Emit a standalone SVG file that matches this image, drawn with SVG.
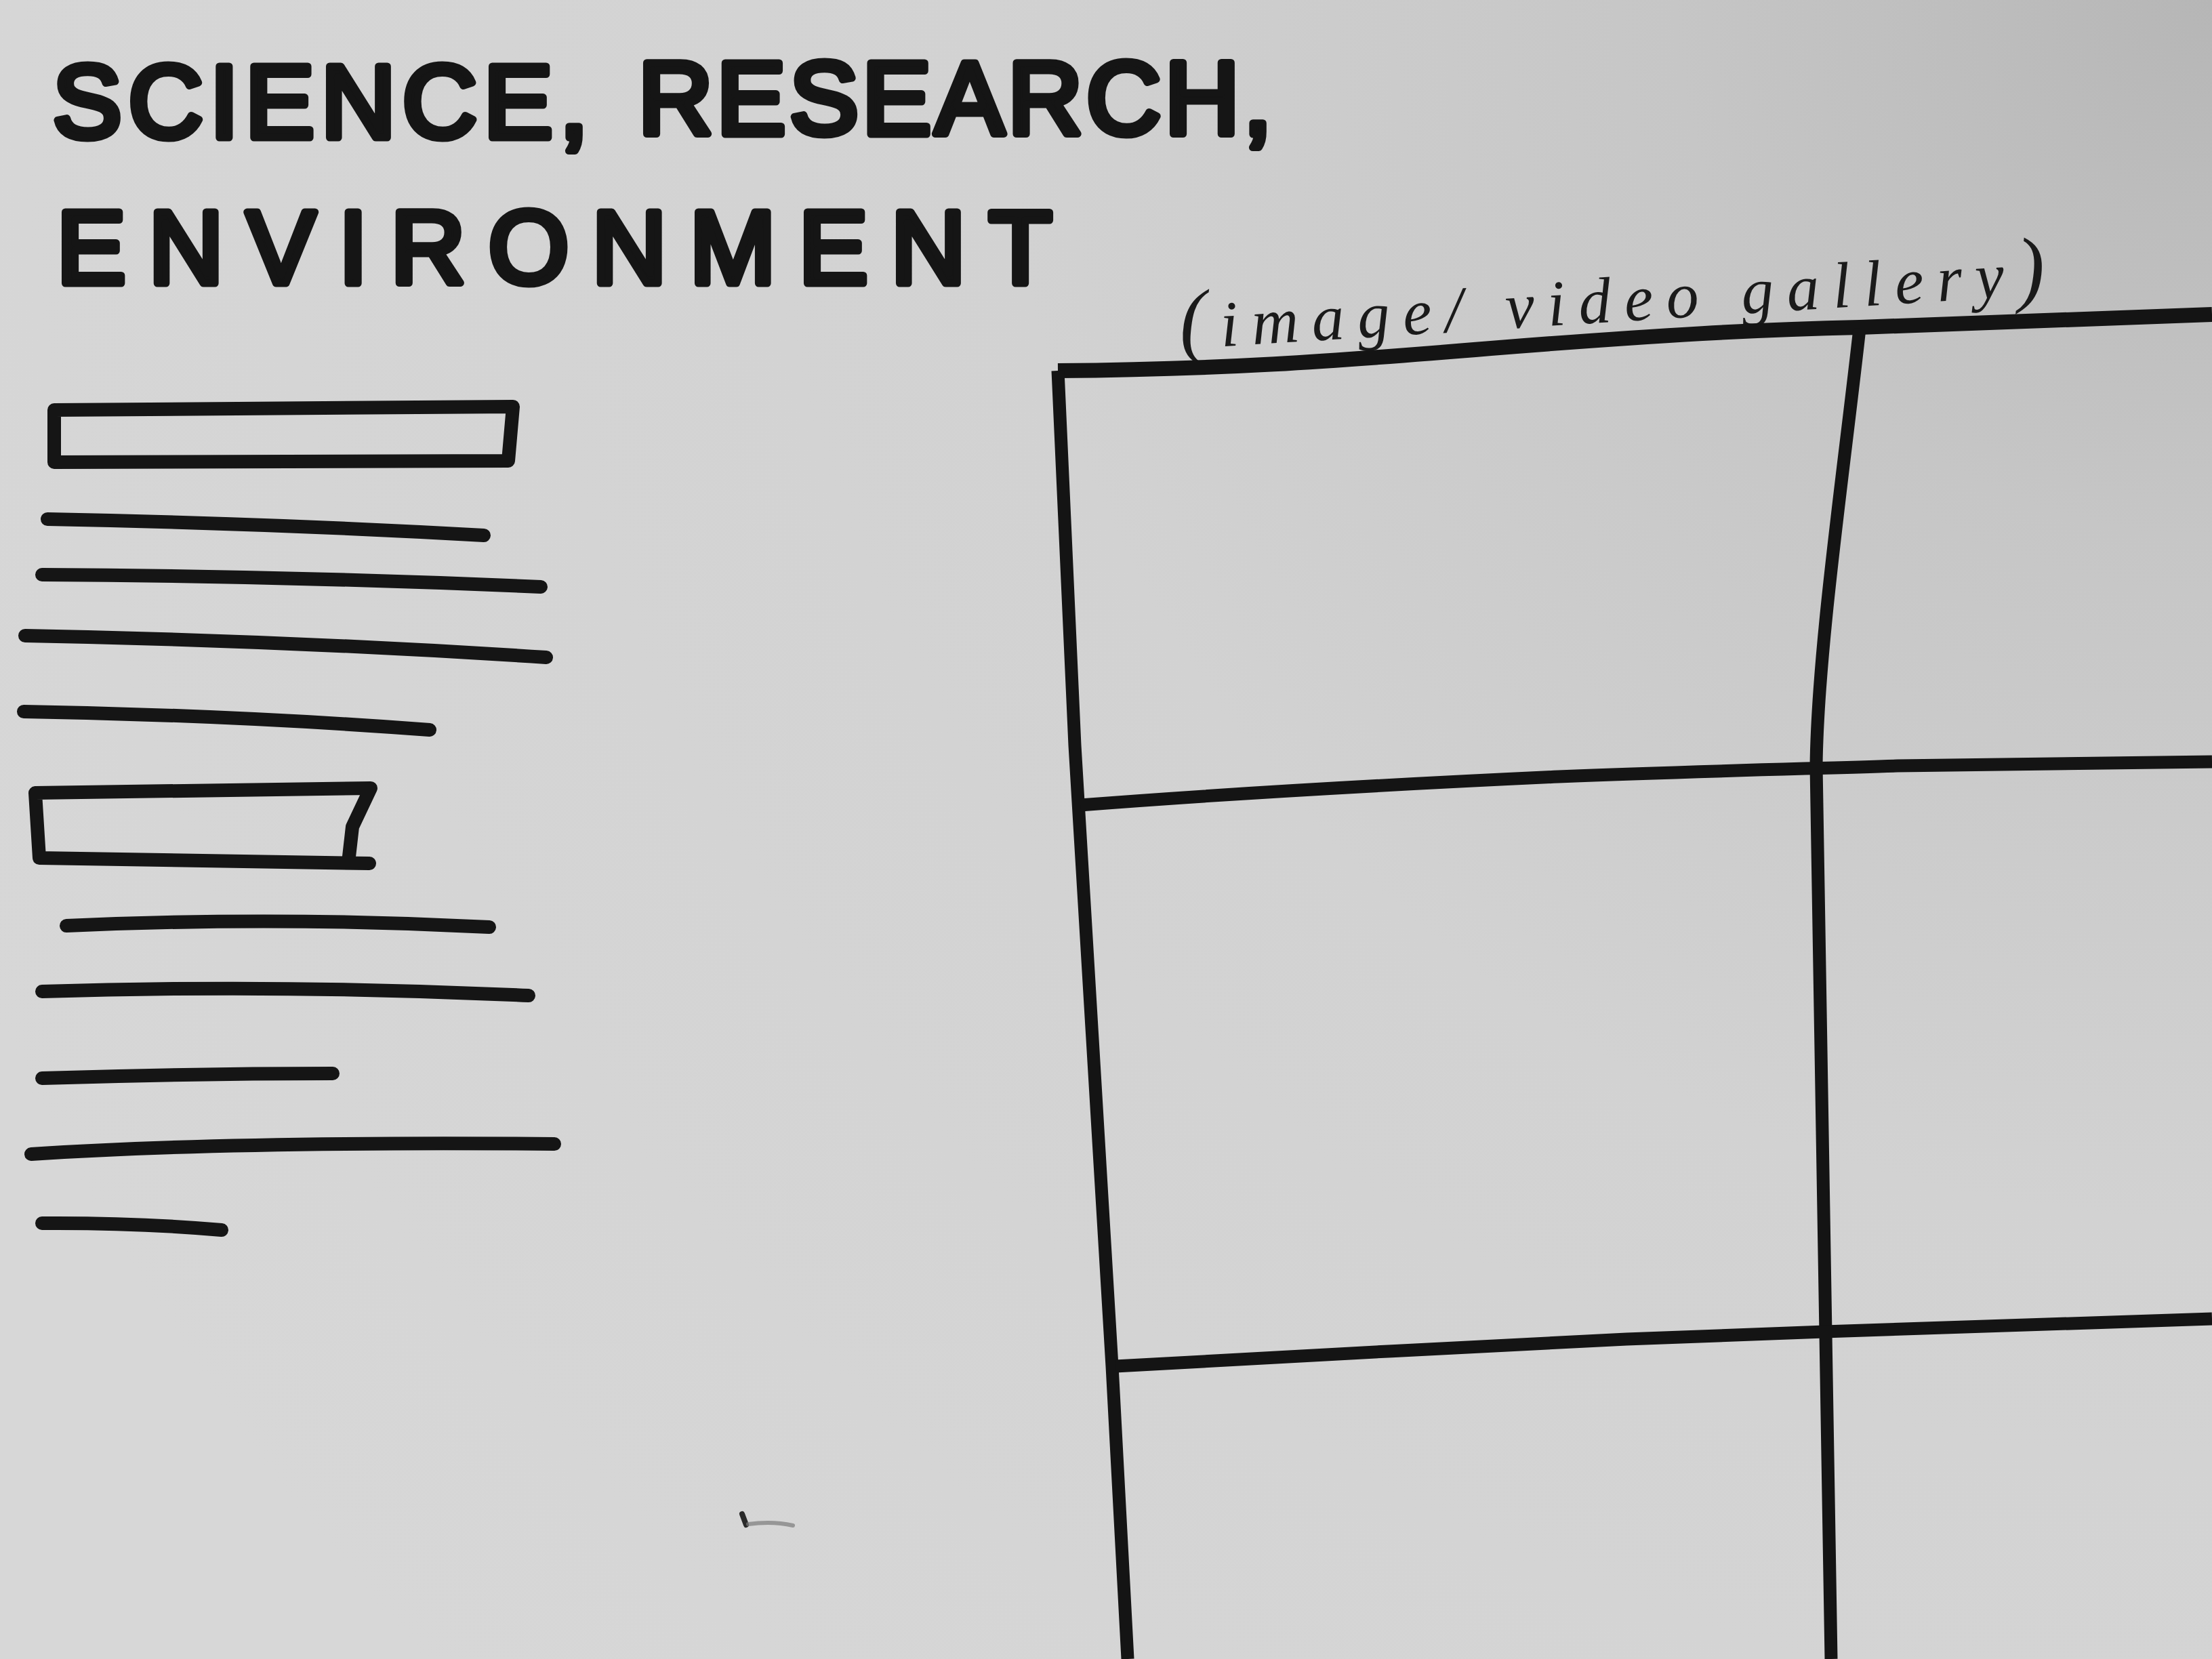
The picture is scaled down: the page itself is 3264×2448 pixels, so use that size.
<svg xmlns="http://www.w3.org/2000/svg" width="3264" height="2448" viewBox="0 0 3264 2448">
  <defs>
    <radialGradient id="paper" cx="3264" cy="0" r="3600" gradientUnits="userSpaceOnUse">
      <stop offset="0" stop-color="#b6b6b6"/>
      <stop offset="0.22" stop-color="#c6c6c6"/>
      <stop offset="0.5" stop-color="#d2d2d2"/>
      <stop offset="1" stop-color="#d7d7d7"/>
    </radialGradient>
  </defs>
  <style>
    .title { font-family: "Liberation Sans", "DejaVu Sans", sans-serif; font-size: 152px; fill: #151515; stroke: #151515; stroke-width: 11; stroke-linejoin: round; }
    .note { font-family: "Liberation Serif", "DejaVu Serif", serif; font-style: italic; font-size: 96px; fill: #1a1a1a; }
    .paren { font-size: 124px; }
    .marker { fill: none; stroke: #151515; stroke-width: 20; stroke-linecap: round; stroke-linejoin: round; }
    .grid { fill: none; stroke: #141414; stroke-width: 19; stroke-linecap: butt; stroke-linejoin: round; }
  </style>

  <!-- paper -->
  <rect x="0" y="0" width="3264" height="2448" fill="url(#paper)"/>

  <!-- page heading -->
  <g id="title">
    <text class="title" x="78" y="203" textLength="790" lengthAdjust="spacing">SCIENCE,</text>
    <text class="title" x="942" y="198" textLength="935" lengthAdjust="spacing">RESEARCH,</text>
    <text class="title" x="84" y="418" textLength="1468" lengthAdjust="spacing">ENVIRONMENT</text>
  </g>

  <!-- handwritten caption above the gallery -->
  <g id="gallery-label">
    <text class="note" x="1742" y="515" transform="rotate(-3.6 1742 515)" textLength="1280" lengthAdjust="spacing"><tspan class="paren">(</tspan>image/ video gallery<tspan class="paren">)</tspan></text>
  </g>

  <!-- left column: headline boxes and text lines -->
  <g id="headline-1">
    <path class="marker" d="M80,605 L757,600 L750,680 L80,682 Z"/>
  </g>
  <g id="text-block-1">
    <path class="marker" d="M70,766 Q390,772 714,790"/>
    <path class="marker" d="M62,848 Q430,850 798,866"/>
    <path class="marker" d="M37,938 Q420,945 806,970"/>
    <path class="marker" d="M35,1050 Q340,1055 634,1077"/>
  </g>
  <g id="headline-2">
    <path class="marker" d="M545,1274 L58,1266 L52,1170 L547,1163 L520,1220 L515,1264"/>
  </g>
  <g id="text-block-2">
    <path class="marker" d="M98,1366 Q410,1352 722,1368"/>
    <path class="marker" d="M62,1463 Q420,1452 780,1469"/>
    <path class="marker" d="M62,1591 Q280,1584 491,1584"/>
    <path class="marker" d="M46,1703 Q330,1684 818,1688"/>
    <path class="marker" d="M62,1805 Q200,1804 327,1815"/>
  </g>

  <!-- stray pen mark -->
  <g id="smudge">
    <path d="M1095,2234 L1101,2250" stroke="#2a2a2a" stroke-width="8" stroke-linecap="round" fill="none"/>
    <path d="M1104,2249 Q1140,2244 1170,2251" stroke="#7a7a7a" stroke-width="6" stroke-linecap="round" fill="none" opacity="0.7"/>
  </g>

  <!-- image / video gallery grid -->
  <g id="gallery-grid">
    <path class="grid" style="stroke-width:22" d="M1561,547 C1800,545 1960,534 2200,514 C2450,494 2600,486 2744,483 L3264,464"/>
    <path class="grid" d="M1561,547 L1586,1100 L1641,2016 L1664,2448"/>
    <path class="grid" d="M2744,485 C2720,700 2682,960 2680,1130 C2683,1500 2694,1900 2702,2448"/>
    <path class="grid" d="M1594,1188 C1800,1172 2062,1157 2300,1146 C2500,1138 2679,1134 2800,1130 L3264,1124"/>
    <path class="grid" d="M1646,2016 C1850,2003 2175,1988 2400,1976 L2692,1965 L3264,1946"/>
  </g>
</svg>
